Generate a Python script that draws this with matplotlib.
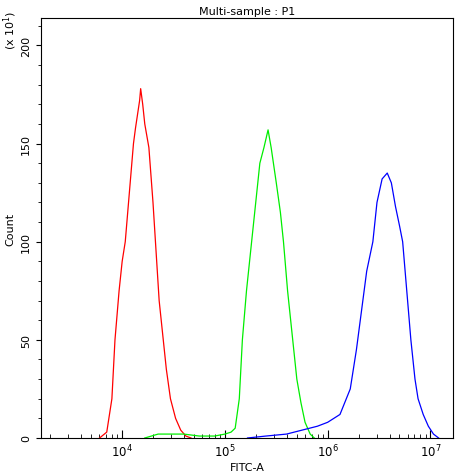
import matplotlib
matplotlib.use("Agg")
import matplotlib.pyplot as plt
import numpy as np
from matplotlib.ticker import FixedLocator

red_logx = [3.78,3.85,3.90,3.93,3.97,4.00,4.03,4.07,4.11,4.13,4.15,4.17,4.18,4.20,4.22,4.26,4.30,4.33,4.36,4.40,4.43,4.47,4.52,4.57,4.62,4.67]
red_y    = [0,3,20,50,75,90,100,125,150,158,165,172,178,170,160,148,120,95,70,50,35,20,10,4,1,0]
green_logx = [4.22,4.35,4.50,4.60,4.75,4.90,5.00,5.06,5.10,5.14,5.17,5.21,5.26,5.30,5.34,5.38,5.42,5.45,5.50,5.54,5.57,5.61,5.64,5.67,5.70,5.74,5.78,5.83,5.87]
green_y    = [0,2,2,2,1,1,2,3,5,20,50,75,100,120,140,148,157,148,130,115,100,75,60,45,30,18,8,2,0]
blue_logx = [5.22,5.40,5.60,5.75,5.90,6.00,6.12,6.22,6.28,6.33,6.38,6.44,6.48,6.53,6.58,6.62,6.66,6.70,6.73,6.77,6.81,6.85,6.88,6.93,6.98,7.03,7.08]
blue_y    = [0,1,2,4,6,8,12,25,45,65,85,100,120,132,135,130,118,108,100,75,50,30,20,12,6,2,0]

fig = plt.figure(figsize=(4.62,4.77), dpi=100)
ax = fig.add_axes([41/462, 1-439/477, 412/462, 420/477])
for lx, y, c in [(red_logx, red_y, 'red'), (green_logx, green_y, '#00ee00'), (blue_logx, blue_y, 'blue')]:
    ax.plot(10**np.array(lx), y, color=c, lw=0.9)
ax.set_xscale('log')
ax.set_xlim(10**3.21, 10**7.22)
ax.set_ylim(0, 214)
ax.set_yticks([0,50,100,150,200])
ax.yaxis.set_minor_locator(FixedLocator(list(range(0,215,10))))
ax.tick_params(axis='y', labelrotation=90, labelsize=8, direction='out')
ax.tick_params(axis='x', labelsize=8.5, direction='in', length=6)
ax.tick_params(axis='x', which='minor', direction='in', length=3)
for t in ax.get_yticklabels():
    t.set_va('center')
ax.set_xlabel('FITC-A', fontsize=8, labelpad=2)
ax.set_ylabel('Count', fontsize=8)
ax.set_title('Multi-sample : P1', fontsize=8, pad=3)
fig.text(10/462, 1-30/477, '(x 10$^1$)', rotation=90, fontsize=8, ha='center', va='center')
fig.savefig('out.png', dpi=100)
